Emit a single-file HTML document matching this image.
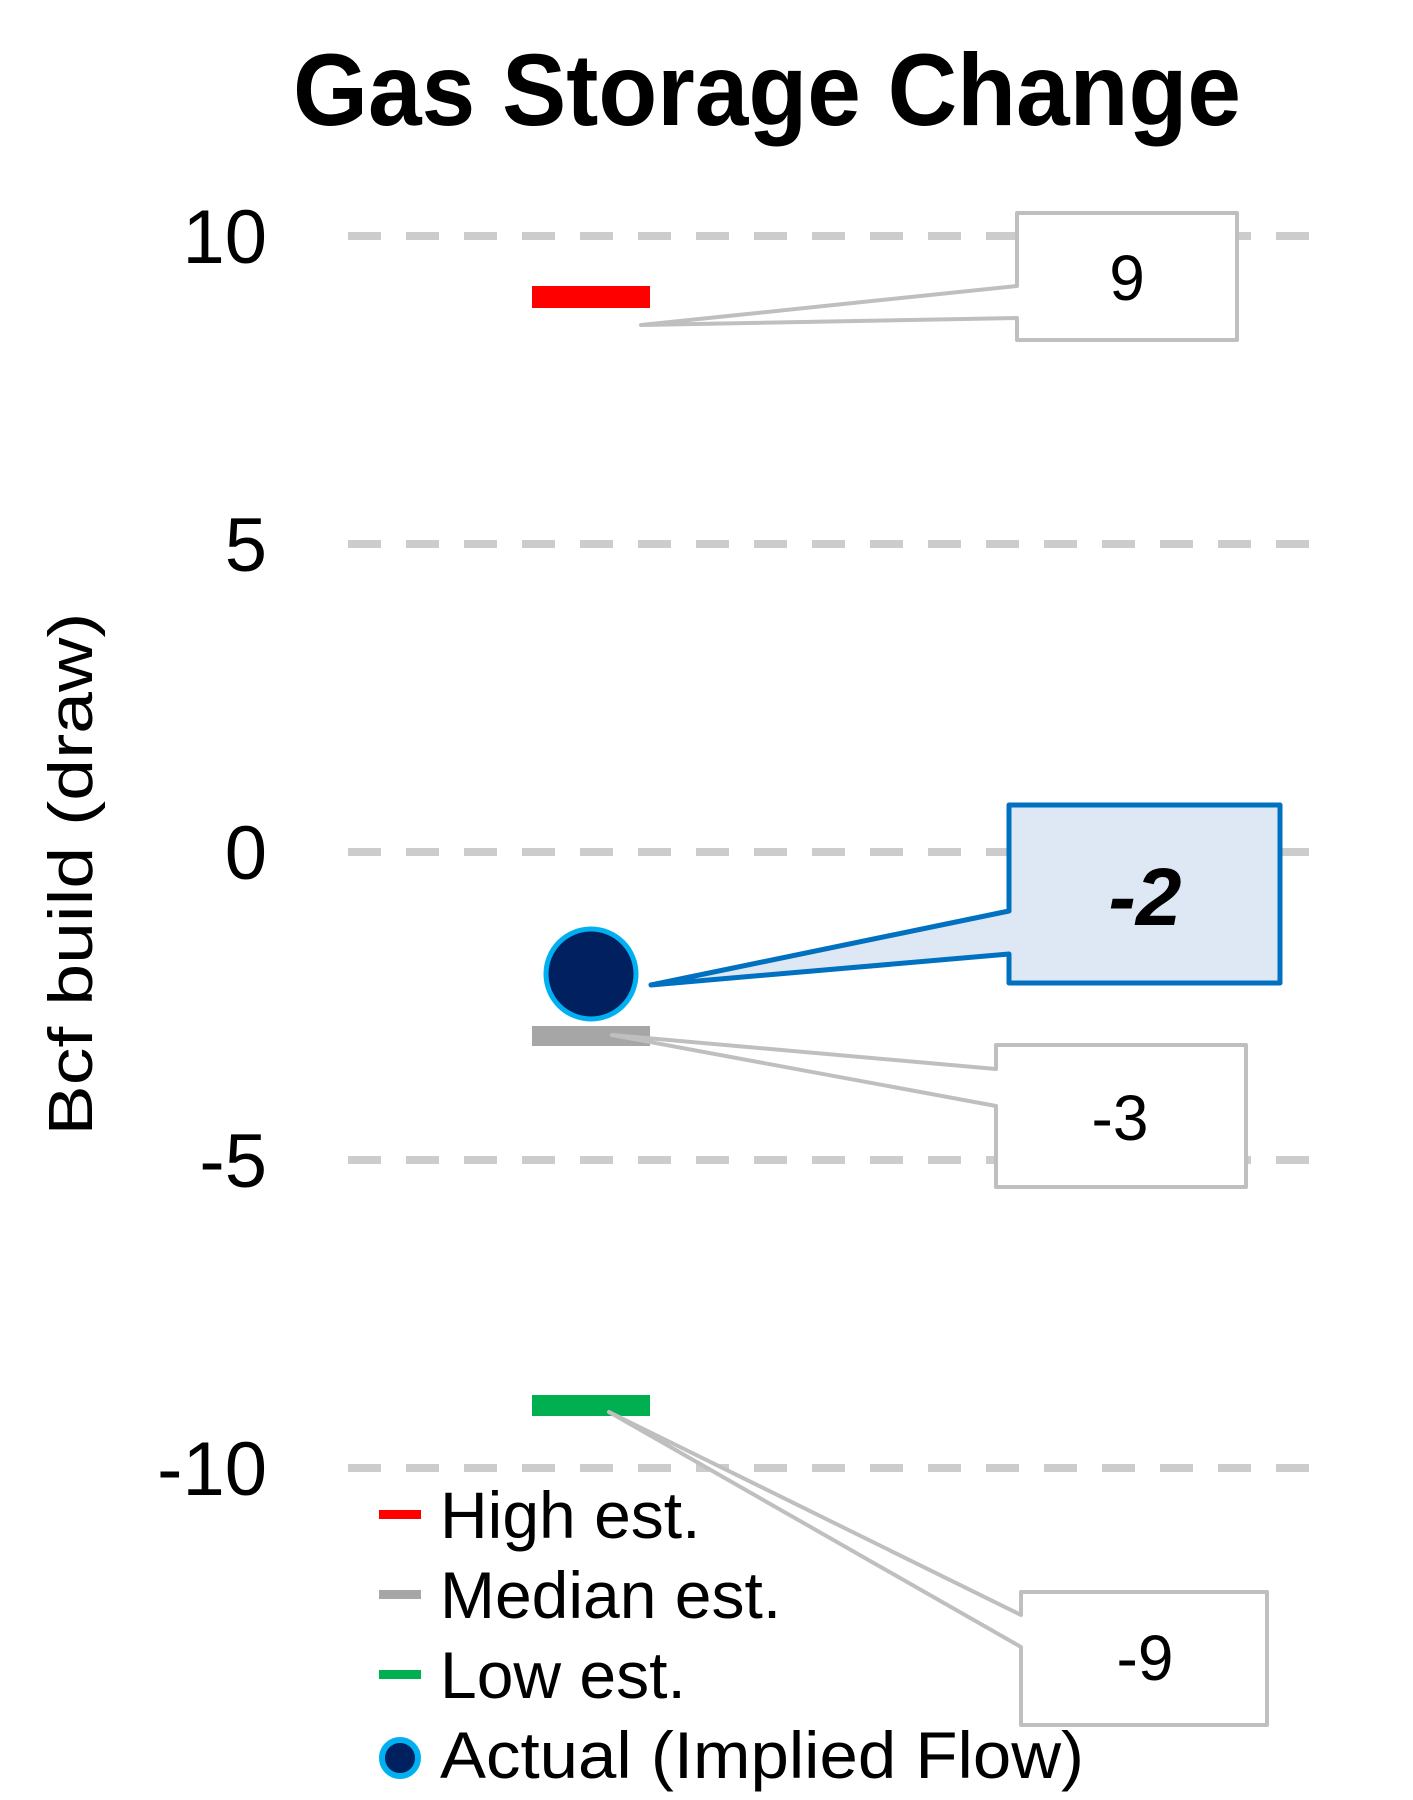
<!DOCTYPE html>
<html><head><meta charset="utf-8"><style>html,body{margin:0;padding:0;background:#fff}svg{display:block}</style></head>
<body>
<svg width="1413" height="1800" viewBox="0 0 1413 1800" xmlns="http://www.w3.org/2000/svg" font-family="Liberation Sans, sans-serif">
<text x="767" y="125" text-anchor="middle" font-size="102" font-weight="bold" textLength="948" lengthAdjust="spacingAndGlyphs">Gas Storage Change</text>
<g stroke="#cccccc" stroke-width="8" stroke-dasharray="33 25">
<line x1="348" y1="236" x2="1320" y2="236"/>
<line x1="348" y1="544" x2="1320" y2="544"/>
<line x1="348" y1="852" x2="1320" y2="852"/>
<line x1="348" y1="1160" x2="1320" y2="1160"/>
<line x1="348" y1="1468" x2="1320" y2="1468"/>
</g>
<g font-size="76" text-anchor="end">
<text x="267" y="263">10</text>
<text x="267" y="571">5</text>
<text x="267" y="879">0</text>
<text x="267" y="1187">-5</text>
<text x="267" y="1495">-10</text>
</g>
<text transform="translate(92,874) rotate(-90)" text-anchor="middle" font-size="62" textLength="523" lengthAdjust="spacingAndGlyphs">Bcf build (draw)</text>
<rect x="532" y="286" width="118" height="22" fill="#ff0000"/>
<rect x="532" y="1026" width="118" height="20" fill="#a6a6a6"/>
<rect x="532" y="1395" width="118" height="21" fill="#00b050"/>
<g fill="#fff" stroke="#bfbfbf" stroke-width="4" stroke-linejoin="round">
<path d="M1017,213 H1237 V340 H1017 V318 L641,325 L1017,286 Z"/>
<path d="M996,1045 H1246 V1187 H996 V1106 L612,1035 L996,1069 Z"/>
<path d="M1021,1592 H1267 V1725 H1021 V1647 L609,1412 L1021,1615 Z"/>
</g>
<path d="M1009,805 H1280 V983 H1009 V954 L651,985 L1009,911 Z" fill="#dde8f4" stroke="#0070c0" stroke-width="5" stroke-linejoin="round"/>
<circle cx="591" cy="974" r="45" fill="#002060" stroke="#00b0f0" stroke-width="5"/>
<g font-size="64" text-anchor="middle">
<text x="1127" y="300">9</text>
<text x="1120" y="1140">-3</text>
<text x="1145" y="1680">-9</text>
</g>
<text x="1145" y="925" font-size="82" font-weight="bold" font-style="italic" text-anchor="middle">-2</text>
<rect x="379" y="1510" width="42" height="9" fill="#ff0000"/>
<rect x="379" y="1590" width="42" height="9" fill="#a6a6a6"/>
<rect x="379" y="1670" width="42" height="9" fill="#00b050"/>
<circle cx="400" cy="1758" r="18" fill="#002060" stroke="#00b0f0" stroke-width="6"/>
<g font-size="66">
<text x="440" y="1538">High est.</text>
<text x="440" y="1618">Median est.</text>
<text x="440" y="1698">Low est.</text>
<text x="440" y="1778" textLength="644" lengthAdjust="spacingAndGlyphs">Actual (Implied Flow)</text>
</g>
</svg>
</body></html>
